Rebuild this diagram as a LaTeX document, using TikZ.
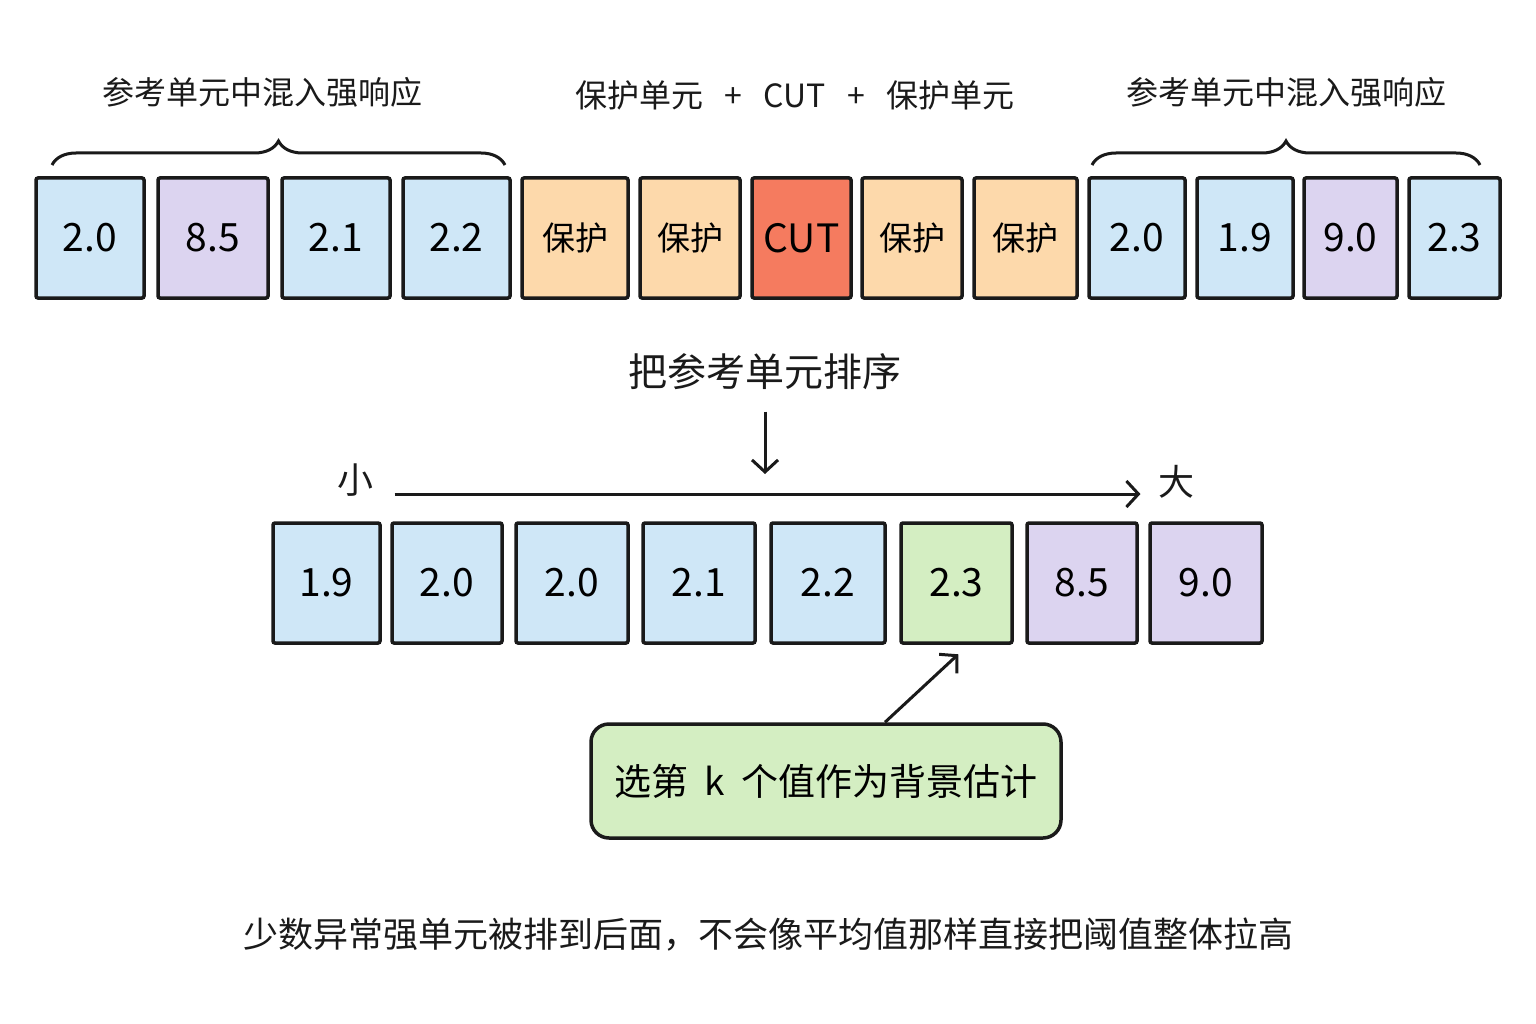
\documentclass[tikz,border=0pt]{standalone}
\usepackage{fontspec}
\setmainfont{Noto Sans CJK SC}
\usepackage{xcolor}
\definecolor{refc}{HTML}{CFE7F7}
\definecolor{hotc}{HTML}{DCD4F0}
\definecolor{gdc}{HTML}{FDD9AB}
\definecolor{cutc}{HTML}{F57B5F}
\definecolor{selc}{HTML}{D4EEC2}
\definecolor{ink}{HTML}{1A1A1A}
\usetikzlibrary{arrows.meta,positioning,calc,decorations.pathreplacing}
\newcommand{\gd}{{\fontsize{33}{36}\selectfont 保护}}
\tikzset{
  >={Straight Barb[length=12pt,width=26pt]},
  cell/.style={draw=ink,line width=3.5pt,rounded corners=2pt,minimum height=120pt,inner sep=0pt,font=\fontsize{39}{42}\selectfont},
  pickbox/.style={draw=ink,line width=3.5pt,rounded corners=18pt,fill=selc,minimum width=470pt,minimum height=114pt,font=\fontsize{37}{40}\selectfont},
  lab/.style={font=\fontsize{32}{36}\selectfont,text=ink},
  biglab/.style={font=\fontsize{36}{40}\selectfont,text=ink},
  arr/.style={->,draw=ink,line width=3pt},
  brc/.style={draw=ink,line width=3pt,decorate,decoration={brace,amplitude=24pt}},
}
\begin{document}
\begin{tikzpicture}[x=1pt,y=-1pt]
\fill[white] (0,0) rectangle (1536,1024);
\useasboundingbox (0,0) rectangle (1536,1024);
\node[lab] (lrefl) at (262,92) {参考单元中混入强响应};
\node[lab] (lmid) at (795,95) {保护单元 \ \ + \ \ CUT \ \ + \ \ 保护单元};
\node[lab] (lrefr) at (1286,92) {参考单元中混入强响应};
\draw[brc] (52,165) -- (505,165);
\draw[brc] (1092,165) -- (1480,165);
\foreach \i/\cx/\w/\c/\t in {1/90/108/refc/2.0,2/213/110/hotc/8.5,3/336/108/refc/2.1,4/456.5/107/refc/2.2,
  5/575/106/gdc/\gd,6/690/100/gdc/\gd,7/801.5/99/cutc/CUT,8/912/100/gdc/\gd,9/1025.5/103/gdc/\gd,
  10/1137/96/refc/2.0,11/1245/96/refc/1.9,12/1350.5/93/hotc/9.0,13/1454.5/91/refc/2.3}{
  \node[cell,minimum width=\w pt,fill=\c] (t\i) at (\cx,238) {\t};
}
\node[biglab,font=\fontsize{39}{42}\selectfont] (sortlab) at (765,372) {把参考单元排序};
\coordinate (sortend) at (765,474);
\draw[arr,shorten <=18pt] (sortlab) -- (sortend);
\node[biglab] (small) at (355,480) {小};
\node[biglab] (big) at (1176,482) {大};
\draw[arr,shorten <=18pt,shorten >=14pt] ([yshift=-14pt]small.east) -- ([yshift=-12pt]big.west);
\foreach \i/\cx/\w/\c/\t in {1/326.5/107/refc/1.9,2/447/110/refc/2.0,3/572/112/refc/2.0,4/699/112/refc/2.1,
  5/828/114/refc/2.2,6/956.5/111/selc/2.3,7/1082/110/hotc/8.5,8/1206/112/hotc/9.0}{
  \node[cell,minimum width=\w pt,fill=\c] (s\i) at (\cx,583) {\t};
}
\node[pickbox] (pick) at (826,781) {选第 \ k \ 个值作为背景估计};
\draw[arr,shorten >=14pt] ($(pick.north)+(59,0)$) -- ([xshift=12pt]s6.south);
\node[lab,font=\fontsize{35}{38}\selectfont] (note) at (768,935) {少数异常强单元被排到后面，不会像平均值那样直接把阈值整体拉高};
\end{tikzpicture}
\end{document}
